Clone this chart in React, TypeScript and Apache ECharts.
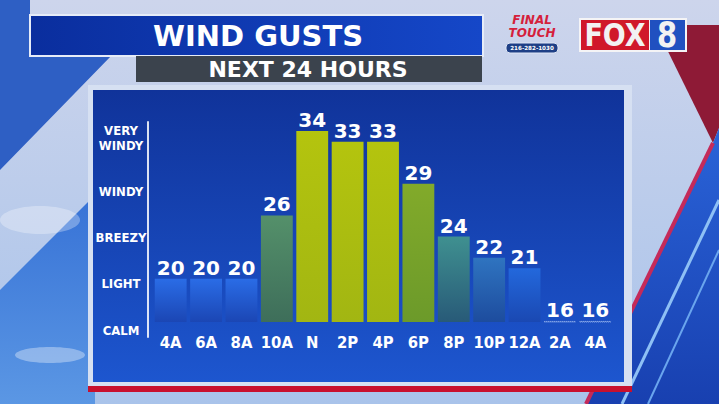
import React, { useEffect, useRef } from "react";
import * as echarts from "echarts";

const categories = ["4A", "6A", "8A", "10A", "N", "2P", "4P", "6P", "8P", "10P", "12A", "2A", "4A"];
const gusts = [20, 20, 20, 26, 34, 33, 33, 29, 24, 22, 21, 16, 16];
const windLevels = ["CALM", "LIGHT", "BREEZY", "WINDY", "VERY\nWINDY"];
const levelTicks = [0, 1, 2, 3, 4.16];

const barColors: [string, string][] = [
  ["#2a6ce6", "#1b46b4"],
  ["#2a6ce6", "#1b46b4"],
  ["#2a6ce6", "#1b46b4"],
  ["#54906a", "#3e6e5a"],
  ["#b4c40e", "#a2b612"],
  ["#b4c40e", "#a2b612"],
  ["#b4c40e", "#a2b612"],
  ["#82aa2a", "#6c9a2a"],
  ["#3f9090", "#285a78"],
  ["#2f74c0", "#1d4c9e"],
  ["#2368dc", "#1a48b2"],
  ["", ""],
  ["", ""],
];

const BOLD = "'DejaVu Sans', sans-serif";
const NARROW = "'Liberation Sans Narrow', 'DejaVu Sans Condensed', 'Open Sans', sans-serif";

const vg = (a: string, b: string) =>
  new echarts.graphic.LinearGradient(0, 0, 0, 1, [
    { offset: 0, color: a },
    { offset: 1, color: b },
  ]);
const hg = (a: string, b: string) =>
  new echarts.graphic.LinearGradient(0, 0, 1, 0, [
    { offset: 0, color: a },
    { offset: 1, color: b },
  ]);

export default function App() {
  const ref = useRef<HTMLDivElement>(null);
  useEffect(() => {
    document.body.style.margin = "0";
    const chart = echarts.init(ref.current!, null, { renderer: "svg" });
    const minVal = Math.min(...gusts);
    const graphic: any[] = [
      { type: "rect", z: -1, shape: { x: 0, y: 0, width: 719, height: 404 }, style: { fill: vg("#cdd5ec", "#a9c3ea") } },
      { type: "polygon", z: -1, shape: { points: [[0, 0], [30, 0], [30, 55], [112, 55], [0, 170]] }, style: { fill: "#2e5fc4" } },
      { type: "polygon", z: -1, shape: { points: [[0, 290], [95, 195], [95, 404], [0, 404]] }, style: { fill: vg("#3772d6", "#5b97e4") } },
      { type: "ellipse", z: -1, shape: { cx: 50, cy: 355, rx: 35, ry: 8 }, style: { fill: "rgba(255,255,255,0.35)" } },
      { type: "ellipse", z: -1, shape: { cx: 40, cy: 220, rx: 40, ry: 14 }, style: { fill: "rgba(255,255,255,0.3)" } },
      { type: "polygon", z: -1, shape: { points: [[655, 25], [719, 25], [719, 128], [713, 143]] }, style: { fill: "#8e1a36" } },
      { type: "polygon", z: -1, shape: { points: [[713, 143], [719, 128], [719, 404], [586, 404]] }, style: { fill: vg("#2a63d8", "#1840b0") } },
      { type: "polyline", z: -1, shape: { points: [[713, 143], [586, 404]] }, style: { stroke: "#c42a5a", lineWidth: 4 } },
      { type: "polyline", z: -1, shape: { points: [[719, 200], [622, 404]] }, style: { stroke: "#8ec0f5", lineWidth: 3 } },
      { type: "polyline", z: -1, shape: { points: [[719, 250], [648, 404]] }, style: { stroke: "#6aa5ee", lineWidth: 2 } },
      // panel
      { type: "rect", z: -1, shape: { x: 88, y: 85, width: 544, height: 301 }, style: { fill: "#d6e0f2" } },
      { type: "rect", z: -1, shape: { x: 88, y: 386, width: 544, height: 6 }, style: { fill: "#c8102e" } },
      { type: "rect", z: -1, shape: { x: 93, y: 90, width: 531, height: 292 }, style: { fill: vg("#10339a", "#1d56cf") } },
      // title
      { type: "rect", z: -1, shape: { x: 29, y: 14, width: 455, height: 43 }, style: { fill: "#e6ecf8" } },
      { type: "rect", z: -1, shape: { x: 31, y: 16, width: 451, height: 39 }, style: { fill: hg("#0a2e9e", "#1547c8") } },
      { type: "rect", z: -1, shape: { x: 136, y: 56, width: 346, height: 26 }, style: { fill: "#3b434d" } },
      { type: "text", x: 258, y: 36, style: { text: "WIND GUSTS", fill: "#fff", font: `bold 29px ${BOLD}`, textAlign: "center", textVerticalAlign: "middle" } },
      { type: "text", x: 308, y: 69, style: { text: "NEXT 24 HOURS", fill: "#fff", font: `bold 22px ${BOLD}`, textAlign: "center", textVerticalAlign: "middle" } },
      // Final Touch logo
      { type: "text", x: 532, y: 19.5, style: { text: "FINAL", fill: "#d51f3c", font: `italic bold 12px ${BOLD}`, textAlign: "center", textVerticalAlign: "middle" } },
      { type: "text", x: 532, y: 32.5, style: { text: "TOUCH", fill: "#d51f3c", font: `italic bold 12px ${BOLD}`, textAlign: "center", textVerticalAlign: "middle" } },
      { type: "rect", shape: { x: 506, y: 43, width: 52, height: 10, r: 4 }, style: { fill: "#1e3f86", stroke: "#dfe6f5", lineWidth: 1 } },
      { type: "text", x: 532, y: 48, style: { text: "216-282-1030", fill: "#fff", font: `bold 5.6px ${BOLD}`, textAlign: "center", textVerticalAlign: "middle" } },
      // FOX 8 logo
      { type: "rect", shape: { x: 579, y: 18, width: 108, height: 34 }, style: { fill: "#f4f4f6" } },
      { type: "rect", shape: { x: 581, y: 20, width: 68, height: 30 }, style: { fill: "#d0182a" } },
      { type: "rect", shape: { x: 650, y: 20, width: 35, height: 30 }, style: { fill: "#2050c0" } },
      { type: "text", x: 615, y: 35, scaleY: 1.2, style: { text: "FOX", fill: "#f2f2f2", font: `bold 27px ${BOLD}`, textAlign: "center", textVerticalAlign: "middle" } },
      { type: "text", x: 667, y: 35, scaleY: 1.2, style: { text: "8", fill: "#f2f2f2", font: `bold 29px ${BOLD}`, textAlign: "center", textVerticalAlign: "middle" } },
    ];

    chart.setOption({
      animation: false,
      graphic,
      grid: [
        { left: 153, width: 460, top: 110, bottom: 82 },
        { left: 148, width: 10, top: 122, bottom: 67 },
      ],
      xAxis: [
        {
          gridIndex: 0,
          type: "category",
          data: categories,
          axisLine: { show: false },
          axisTick: { show: false },
          axisLabel: { color: "#fff", fontFamily: NARROW, fontWeight: "bold", fontSize: 16.5, margin: 12, interval: 0 },
        },
        { gridIndex: 1, type: "value", show: false },
      ],
      yAxis: [
        { gridIndex: 0, type: "value", min: 15.9, max: 36, show: false },
        {
          gridIndex: 1,
          type: "value",
          min: -0.15,
          max: 4.5,
          axisLine: { show: true, lineStyle: { color: "rgba(255,255,255,0.85)", width: 2 } },
          axisTick: { show: false },
          splitLine: { show: false },
          axisLabel: {
            customValues: levelTicks,
            formatter: (v: number) => {
              let best = 0;
              levelTicks.forEach((t, i) => {
                if (Math.abs(t - v) < Math.abs(levelTicks[best] - v)) best = i;
              });
              return windLevels[best];
            },
            color: "#fff",
            fontFamily: NARROW,
            fontWeight: "bold",
            fontSize: 13,
            lineHeight: 15,
            align: "center",
            margin: 27,
          },
        },
      ],
      series: [
        {
          type: "bar",
          xAxisIndex: 0,
          yAxisIndex: 0,
          barCategoryGap: "10%",
          data: gusts.map((v, i) => ({
            value: v,
            itemStyle:
              v <= minVal
                ? { color: "rgba(0,0,0,0)", borderColor: "rgba(200,220,255,0.7)", borderWidth: 1, borderType: "dotted" }
                : { color: vg(barColors[i][0], barColors[i][1]) },
          })),
          label: {
            show: true,
            position: "top",
            distance: 1,
            color: "#fff",
            fontFamily: BOLD,
            fontWeight: "bold",
            fontSize: 20,
          },
        },
      ],
    });
    return () => chart.dispose();
  }, []);
  return <div ref={ref} style={{ position: "absolute", left: 0, top: 0, width: 719, height: 404 }} />;
}
